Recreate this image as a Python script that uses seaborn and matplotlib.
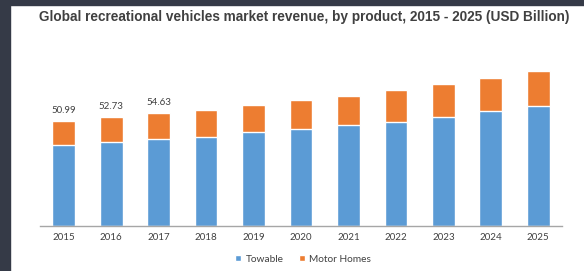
import numpy as np
import pandas as pd
import matplotlib
matplotlib.use('Agg')
import matplotlib.pyplot as plt
import seaborn as sns
from matplotlib.patches import Rectangle, Patch

years = ['2015', '2016', '2017', '2018', '2019', '2020', '2021', '2022', '2023', '2024', '2025']
towable = [39.2, 40.8, 42.0, 43.2, 45.4, 46.8, 48.8, 50.5, 52.8, 55.6, 58.1]
motor_homes = [11.8, 11.9, 12.6, 13.0, 13.2, 14.1, 14.3, 15.3, 16.0, 16.1, 17.0]
labeled_totals = ['50.99', '52.73', '54.63']

df = pd.DataFrame({'Year': years, 'Towable': towable, 'Motor Homes': motor_homes})
df['Total'] = df['Towable'] + df['Motor Homes']

sns.set_theme(style='white')
plt.rcParams['font.family'] = ['Lato', 'DejaVu Sans']

blue = '#5b9bd5'
orange = '#ed7d31'

fig = plt.figure(figsize=(5.84, 2.71), dpi=100)
ax = fig.add_axes([40 / 584, 1 - 225.7 / 271, 522 / 584, 195.7 / 271])

# barras empilhadas: total em laranja, towable em azul por cima
sns.barplot(data=df, x='Year', y='Total', color=orange, width=0.48, saturation=1, ax=ax)
sns.barplot(data=df, x='Year', y='Towable', color=blue, width=0.48, saturation=1, ax=ax)

for i, lab in enumerate(labeled_totals):
    ax.text(i, df['Total'][i] + 2.8, lab, ha='center', va='bottom', fontsize=7, color='#404040')

ax.set_xlim(-0.5, len(years) - 0.5)
ax.set_ylim(0, 95)
ax.set_xlabel('')
ax.set_ylabel('')
ax.set_yticks([])
ax.tick_params(axis='x', length=0, pad=5, labelsize=7, labelcolor='#404040')
for s in ['top', 'right', 'left']:
    ax.spines[s].set_visible(False)
ax.spines['bottom'].set_color('#a6a6a6')
ax.spines['bottom'].set_linewidth(1)

fig.text(304.5 / 584, 1 - 17 / 271, 'Global recreational vehicles market revenue, by product, 2015 - 2025 (USD Billion)',
         ha='center', va='center', fontsize=9.8, fontweight='bold', color='#404040',
         family=['Liberation Sans', 'DejaVu Sans'])

handles = [Patch(facecolor=blue, label='Towable'), Patch(facecolor=orange, label='Motor Homes')]
fig.legend(handles=handles, loc='center', bbox_to_anchor=(303 / 584, 1 - 259 / 271), ncol=2, frameon=False,
           fontsize=7.3, handlelength=0.6, handleheight=0.6, handletextpad=0.4, columnspacing=1.5,
           labelcolor='#404040')

# borda escura da captura de tela
dark = '#353a47'
fig.add_artist(Rectangle((0, 0), 10 / 584, 1, transform=fig.transFigure, color=dark, zorder=10))
fig.add_artist(Rectangle((0, 1 - 5 / 271), 1, 5 / 271, transform=fig.transFigure, color=dark, zorder=10))

fig.savefig('out.png', dpi=100)
